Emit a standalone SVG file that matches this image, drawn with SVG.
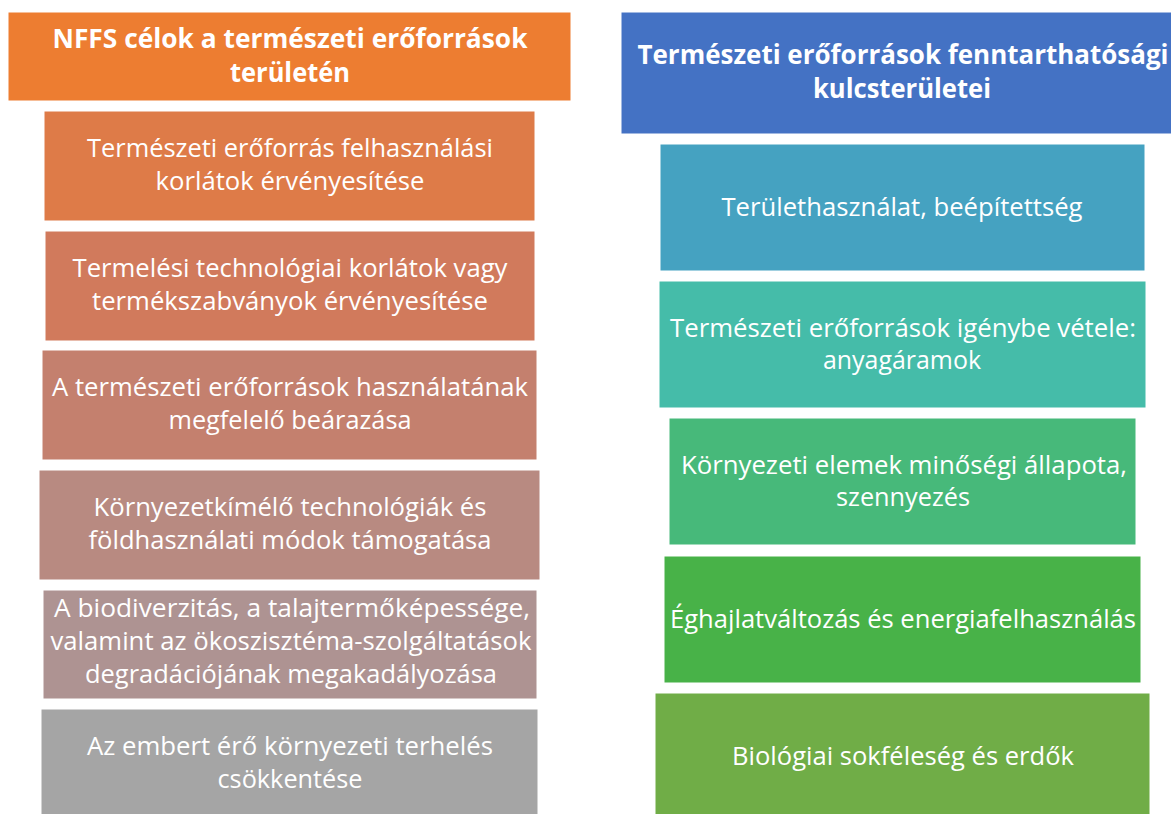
<svg xmlns="http://www.w3.org/2000/svg" width="1171" height="814" viewBox="0 0 1171 814">
<style>
  rect { stroke: #ffffff; stroke-width: 1; }
  text { fill: #ffffff; font-family: "Open Sans", "Noto Sans", "Liberation Sans", sans-serif; text-anchor: middle; }
  .h { font-size: 26px; font-weight: bold; }
  .t { font-size: 25px; }
</style>
<rect x="0" y="0" width="1171" height="814" fill="#ffffff" stroke="none"/>
<g id="left-header">
  <rect x="8" y="12" width="563" height="89" fill="#ED7D31"/>
  <text class="h" x="290" y="48" textLength="475" lengthAdjust="spacingAndGlyphs">NFFS célok a természeti erőforrások</text>
  <text class="h" x="290" y="82" textLength="120" lengthAdjust="spacingAndGlyphs">területén</text>
</g>
<g id="left-1">
  <rect x="44" y="111" width="491" height="110" fill="#DE7B48"/>
  <text class="t" x="290" y="157" textLength="406" lengthAdjust="spacingAndGlyphs">Természeti erőforrás felhasználási</text>
  <text class="t" x="290" y="190" textLength="269" lengthAdjust="spacingAndGlyphs">korlátok érvényesítése</text>
</g>
<g id="left-2">
  <rect x="45" y="231" width="490" height="110" fill="#D17A5C"/>
  <text class="t" x="290" y="277" textLength="435" lengthAdjust="spacingAndGlyphs">Termelési technológiai korlátok vagy</text>
  <text class="t" x="290" y="310" textLength="396" lengthAdjust="spacingAndGlyphs">termékszabványok érvényesítése</text>
</g>
<g id="left-3">
  <rect x="42" y="350" width="495" height="110" fill="#C4806E"/>
  <text class="t" x="290" y="396" textLength="476" lengthAdjust="spacingAndGlyphs">A természeti erőforrások használatának</text>
  <text class="t" x="290" y="429" textLength="243" lengthAdjust="spacingAndGlyphs">megfelelő beárazása</text>
</g>
<g id="left-4">
  <rect x="39" y="470" width="501" height="110" fill="#B88A81"/>
  <text class="t" x="290" y="516" textLength="393" lengthAdjust="spacingAndGlyphs">Környezetkímélő technológiák és</text>
  <text class="t" x="290" y="549" textLength="403" lengthAdjust="spacingAndGlyphs">földhasználati módok támogatása</text>
</g>
<g id="left-5">
  <rect x="43" y="590" width="494" height="109" fill="#AE9392"/>
  <text class="t" x="292" y="617" textLength="476" lengthAdjust="spacingAndGlyphs">A biodiverzitás, a talajtermőképessége,</text>
  <text class="t" x="291" y="650" textLength="481" lengthAdjust="spacingAndGlyphs">valamint az ökoszisztéma-szolgáltatások</text>
  <text class="t" x="291" y="683" textLength="412" lengthAdjust="spacingAndGlyphs">degradációjának megakadályozása</text>
</g>
<g id="left-6">
  <rect x="41" y="709" width="497" height="112" fill="#A5A5A5"/>
  <text class="t" x="290" y="755" textLength="406" lengthAdjust="spacingAndGlyphs">Az embert érő környezeti terhelés</text>
  <text class="t" x="290" y="788" textLength="145" lengthAdjust="spacingAndGlyphs">csökkentése</text>
</g>
<g id="right-header">
  <rect x="621" y="12" width="555" height="122" fill="#4472C4"/>
  <text class="h" x="903" y="64" textLength="531" lengthAdjust="spacingAndGlyphs">Természeti erőforrások fenntarthatósági</text>
  <text class="h" x="902" y="98" textLength="178" lengthAdjust="spacingAndGlyphs">kulcsterületei</text>
</g>
<g id="right-1">
  <rect x="660" y="144" width="485" height="127" fill="#45A2C1"/>
  <text class="t" x="902" y="216" textLength="361" lengthAdjust="spacingAndGlyphs">Területhasználat, beépítettség</text>
</g>
<g id="right-2">
  <rect x="659" y="281" width="487" height="127" fill="#45BCA9"/>
  <text class="t" x="903" y="337" textLength="466" lengthAdjust="spacingAndGlyphs">Természeti erőforrások igénybe vétele:</text>
  <text class="t" x="902" y="369" textLength="158" lengthAdjust="spacingAndGlyphs">anyagáramok</text>
</g>
<g id="right-3">
  <rect x="669" y="418" width="467" height="127" fill="#47B97A"/>
  <text class="t" x="904" y="474" textLength="446" lengthAdjust="spacingAndGlyphs">Környezeti elemek minőségi állapota,</text>
  <text class="t" x="903" y="506" textLength="134" lengthAdjust="spacingAndGlyphs">szennyezés</text>
</g>
<g id="right-4">
  <rect x="664" y="556" width="477" height="127" fill="#48B248"/>
  <text class="t" x="903" y="628" textLength="466" lengthAdjust="spacingAndGlyphs">Éghajlatváltozás és energiafelhasználás</text>
</g>
<g id="right-5">
  <rect x="655" y="693" width="495" height="127" fill="#70AD47"/>
  <text class="t" x="903" y="765" textLength="342" lengthAdjust="spacingAndGlyphs">Biológiai sokféleség és erdők</text>
</g>
<g id="connectors"></g>
</svg>
